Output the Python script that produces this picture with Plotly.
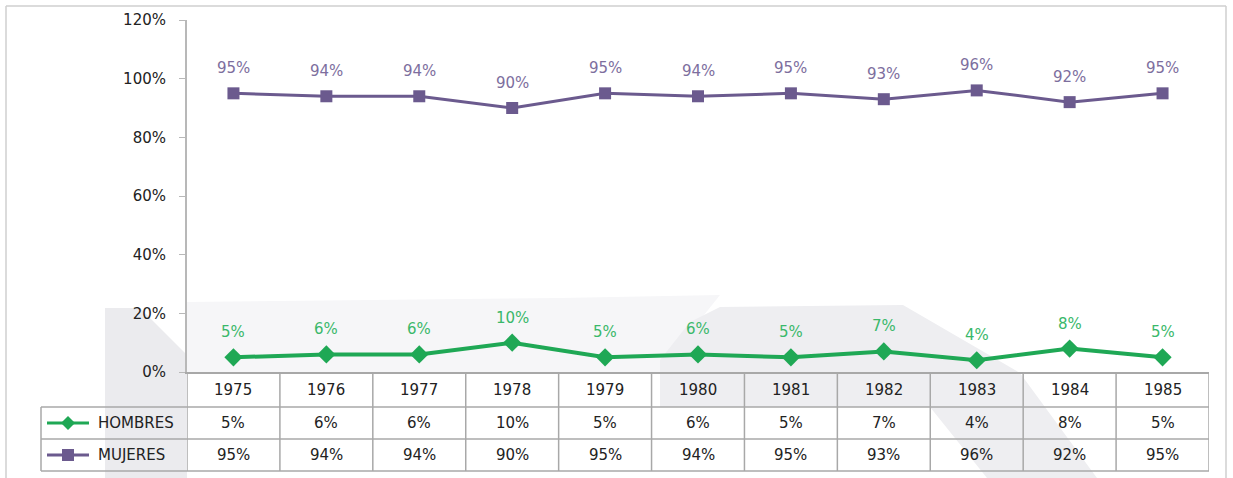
import plotly.graph_objects as go

years = ["1975", "1976", "1977", "1978", "1979", "1980", "1981", "1982", "1983", "1984", "1985"]
hombres = [5, 6, 6, 10, 5, 6, 5, 7, 4, 8, 5]
mujeres = [95, 94, 94, 90, 95, 94, 95, 93, 96, 92, 95]
y_ticks = [0, 20, 40, 60, 80, 100, 120]
series_names = ["HOMBRES", "MUJERES"]

GREEN = "#1fa855"
GREEN_TXT = "#3ab86a"
PURPLE = "#6b5a8e"
PURPLE_TXT = "#7d6e9e"
GRID = "#a8a8a8"
TXT = "#222222"
FONT = "DejaVu Sans"

W, H = 1233, 478
L, R, T, B = 187, 24, 20, 106
PW, PH = W - L - R, H - T - B


def px(x):
    return (x - L) / PW


def py(y):
    return (H - B - y) / PH


def poly(points):
    return "M " + " L ".join(f"{px(a):.5f},{py(b):.5f}" for a, b in points) + " Z"


n = len(years)
xs = list(range(n))

fig = go.Figure()
fig.add_trace(go.Scatter(x=xs, y=mujeres, mode="lines+markers", name=series_names[1],
                         line=dict(color=PURPLE, width=3),
                         marker=dict(symbol="square", size=12, color=PURPLE)))
fig.add_trace(go.Scatter(x=xs, y=hombres, mode="lines+markers", name=series_names[0],
                         line=dict(color=GREEN, width=4),
                         marker=dict(symbol="diamond", size=14, color=GREEN)))

shapes = []
# faint background watermark
wm = [
    ([(105, 308), (140, 308), (187, 355), (187, 478), (105, 478)], "#ebebee"),
    ([(187, 302), (560, 298), (720, 295), (700, 320), (665, 360), (660, 372), (187, 372)], "#f6f6f8"),
    ([(720, 307), (903, 305), (1020, 373), (1097, 478), (987, 478), (930, 407), (660, 407),
      (660, 360), (690, 322)], "#eeeef1"),
]
for pts, col in wm:
    shapes.append(dict(type="path", xref="paper", yref="paper", path=poly(pts), fillcolor=col,
                       line=dict(width=0), layer="below"))

ann = []
for i in xs:
    ann.append(dict(x=i, y=mujeres[i], xref="x", yref="y", text=f"{mujeres[i]}%", showarrow=False,
                    yshift=25, font=dict(family=FONT, size=15, color=PURPLE_TXT)))
    ann.append(dict(x=i, y=hombres[i], xref="x", yref="y", text=f"{hombres[i]}%", showarrow=False,
                    yshift=25, font=dict(family=FONT, size=15, color=GREEN_TXT)))

# table rows (pixel y of row lines)
rows = [372, 407, 439, 471]
line_style = dict(color=GRID, width=1.5)
for ry in rows[1:]:
    shapes.append(dict(type="line", xref="paper", yref="paper", x0=px(41), x1=1.0,
                       y0=py(ry), y1=py(ry), line=line_style))
for i in range(n + 1):
    shapes.append(dict(type="line", xref="x", yref="paper", x0=i - 0.5, x1=i - 0.5,
                       y0=py(372), y1=py(471), line=line_style))
shapes.append(dict(type="line", xref="paper", yref="paper", x0=px(41), x1=px(41),
                   y0=py(407), y1=py(471), line=line_style))

# table text
row_centers = [390, 423, 455]
for i in xs:
    for rc, txt in [(row_centers[0], years[i]), (row_centers[1], f"{hombres[i]}%"),
                    (row_centers[2], f"{mujeres[i]}%")]:
        ann.append(dict(x=i, y=py(rc), xref="x", yref="paper", text=txt, showarrow=False,
                        xanchor="center", yanchor="middle",
                        font=dict(family=FONT, size=15, color=TXT)))

# legend keys inside table
for rc, name, col, sym in [(row_centers[1], series_names[0], GREEN, "diamond"),
                           (row_centers[2], series_names[1], PURPLE, "square")]:
    shapes.append(dict(type="line", xref="paper", yref="paper", x0=px(47), x1=px(89),
                       y0=py(rc), y1=py(rc), line=dict(color=col, width=3)))
    if sym == "diamond":
        path = "M 0 7 L 7 0 L 0 -7 L -7 0 Z"
    else:
        path = "M -6 -6 L 6 -6 L 6 6 L -6 6 Z"
    shapes.append(dict(type="path", xref="paper", yref="paper", xsizemode="pixel", ysizemode="pixel",
                       xanchor=px(68), yanchor=py(rc), path=path, fillcolor=col, line=dict(width=0)))
    ann.append(dict(x=px(96), y=py(rc), xref="paper", yref="paper", text=name, showarrow=False,
                    xanchor="left", yanchor="middle", font=dict(family=FONT, size=15, color=TXT)))

# outer frame
frame = dict(color="#cfcfcf", width=1.5)
shapes.append(dict(type="line", xref="paper", yref="paper", x0=px(6), x1=px(6), y0=py(6), y1=py(478), line=frame))
shapes.append(dict(type="line", xref="paper", yref="paper", x0=px(1226), x1=px(1226), y0=py(6), y1=py(478), line=frame))
shapes.append(dict(type="line", xref="paper", yref="paper", x0=px(6), x1=px(1226), y0=py(6), y1=py(6), line=frame))

fig.update_layout(
    width=W, height=H,
    margin=dict(l=L, r=R, t=T, b=B, pad=0),
    paper_bgcolor="white", plot_bgcolor="rgba(0,0,0,0)",
    showlegend=False,
    annotations=ann, shapes=shapes,
    xaxis=dict(range=[-0.5, n - 0.5], showticklabels=False, showgrid=False, zeroline=False,
               showline=True, linecolor=GRID, linewidth=2, ticks="", fixedrange=True),
    yaxis=dict(range=[0, 120], tickvals=y_ticks, ticktext=[f"{v}%" for v in y_ticks],
               showgrid=False, zeroline=False, showline=True, linecolor="#b8b8b8", linewidth=2,
               ticks="outside", ticklen=6, tickcolor="#b8b8b8", ticklabelstandoff=10,
               tickfont=dict(family=FONT, size=15, color=TXT), fixedrange=True),
)

fig.write_html("out.html", config={"displayModeBar": False},
               post_script="document.body.style.margin='0px';")
